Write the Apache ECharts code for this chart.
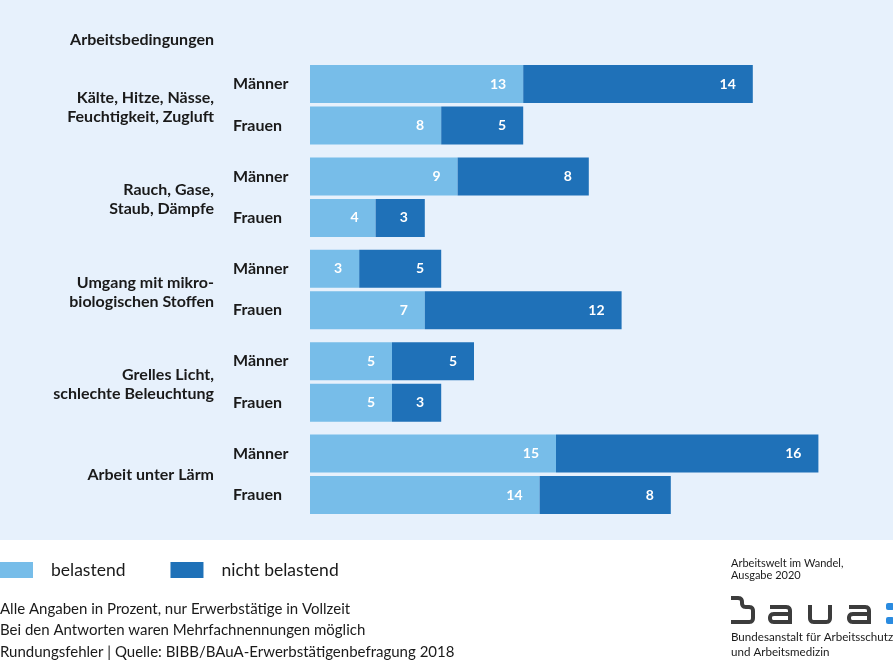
<!DOCTYPE html>
<html><head><meta charset="utf-8">
<script src="https://cdn.jsdelivr.net/npm/echarts@6/dist/echarts.min.js"></script>
<style>html,body{margin:0;padding:0;background:#fff}#c{width:893px;height:663px}</style>
</head><body><div id="c"></div>
<script>
const groups = ['Kälte, Hitze, Nässe,\nFeuchtigkeit, Zugluft', 'Rauch, Gase,\nStaub, Dämpfe', 'Umgang mit mikro-\nbiologischen Stoffen', 'Grelles Licht,\nschlechte Beleuchtung', 'Arbeit unter Lärm'];
const rows = ['Männer', 'Frauen'];
// [Männer, Frauen] per group
const belastend = [[13, 8], [9, 4], [3, 7], [5, 5], [15, 14]];
const nichtBelastend = [[14, 5], [8, 3], [5, 12], [5, 3], [16, 8]];
const seriesNames = ['belastend', 'nicht belastend'];
const notes = ['Alle Angaben in Prozent, nur Erwerbstätige in Vollzeit', 'Bei den Antworten waren Mehrfachnennungen möglich', 'Rundungsfehler | Quelle: BIBB/BAuA-Erwerbstätigenbefragung 2018'];

const FONT = 'Lato';
const TXT = '#1a1a1a';
const colors = ['#77bde9', '#1f71b8'];
const grid = [], xAxis = [], yAxis = [], series = [], graphic = [];
graphic.push({type:'rect', z:-10, shape:{x:0,y:0,width:893,height:540}, style:{fill:'#e7f1fc'}});
graphic.push({type:'text', x:214, y:40, style:{text:'Arbeitsbedingungen', textAlign:'right', textVerticalAlign:'middle', font:'bold 16px '+FONT, fill:TXT}});
groups.forEach((g, i) => {
  const top = 63.25 + i * 92.4;
  grid.push({left:310, width:574, top:top, height:83});
  xAxis.push({gridIndex:i, type:'value', min:0, max:35, show:false});
  yAxis.push({gridIndex:i, type:'category', data:rows, inverse:true,
    axisLine:{show:false}, axisTick:{show:false},
    axisLabel:{align:'left', margin:77, fontFamily:FONT, fontWeight:'bold', fontSize:16, color:TXT}});
  const multi = g.indexOf('\n') >= 0;
  graphic.push({type:'text', x:214, y:top + 41.5 + (multi ? 2.5 : 0), style:{text:g, textAlign:'right', textVerticalAlign:'middle', font:'bold 16px '+FONT, lineHeight:19, fill:TXT}});
  [belastend[i], nichtBelastend[i]].forEach((d, k) => {
    series.push({type:'bar', name:seriesNames[k], xAxisIndex:i, yAxisIndex:i, stack:'s'+i, data:d,
      barWidth:38, itemStyle:{color:colors[k]},
      label:{show:true, position:'insideRight', distance:17, color:'#fff', fontFamily:FONT, fontWeight:'bold', fontSize:14}});
  });
});
notes.forEach((n, i) => {
  graphic.push({type:'text', x:0, y:609 + i * 21.5, style:{text:n, textVerticalAlign:'middle', font:'15px '+FONT, fill:TXT}});
});
graphic.push({type:'text', x:731, y:569, style:{text:'Arbeitswelt im Wandel,\nAusgabe 2020', textVerticalAlign:'middle', font:'11px '+FONT, lineHeight:12, fill:TXT}});
graphic.push({type:'text', x:731, y:644.5, style:{text:'Bundesanstalt für Arbeitsschutz\nund Arbeitsmedizin', textVerticalAlign:'middle', font:'11.6px '+FONT, lineHeight:15, fill:TXT}});

// baua logo drawn as rounded polylines
function rounded(pts, r) {
  const out = [pts[0]];
  for (let i = 1; i < pts.length - 1; i++) {
    const p = pts[i], a = pts[i-1], b = pts[i+1];
    const d1 = Math.hypot(p[0]-a[0], p[1]-a[1]), d2 = Math.hypot(b[0]-p[0], b[1]-p[1]);
    const rr = Math.min(r, d1/2, d2/2);
    const s = [p[0] - (p[0]-a[0])/d1*rr, p[1] - (p[1]-a[1])/d1*rr];
    const e = [p[0] + (b[0]-p[0])/d2*rr, p[1] + (b[1]-p[1])/d2*rr];
    for (let t = 0; t <= 1.0001; t += 0.2) {
      const u = 1 - t;
      out.push([u*u*s[0] + 2*u*t*p[0] + t*t*e[0], u*u*s[1] + 2*u*t*p[1] + t*t*e[1]]);
    }
  }
  out.push(pts[pts.length-1]);
  return out;
}
const logoStyle = {fill:null, stroke:'#3c3c3c', lineWidth:4, lineJoin:'round'};
const addLine = (pts, r) => graphic.push({type:'polyline', shape:{points:rounded(pts, r)}, style:logoStyle});
addLine([[731,598],[742,598],[742,607],[753,607],[753,622],[731,622]], 4);
[770, 849].forEach(x0 => {
  addLine([[x0,607],[x0+20,607],[x0+20,624]], 4);
  addLine([[x0+20,614],[x0,614],[x0,622],[x0+20,622]], 4);
});
addLine([[810,605],[810,622],[830,622],[830,605]], 4);
graphic.push({type:'rect', shape:{x:886,y:603,width:8,height:7,r:2}, style:{fill:'#2a8be0'}});
graphic.push({type:'rect', shape:{x:886,y:617,width:8,height:7,r:2}, style:{fill:'#2a8be0'}});

const chart = echarts.init(document.getElementById('c'), null, {renderer:'canvas'});
chart.setOption({
  animation:false,
  textStyle:{fontFamily:FONT},
  legend:{left:0, top:561, padding:0, itemWidth:33, itemHeight:16, itemGap:45, icon:'rect',
    data:seriesNames, textStyle:{fontFamily:FONT, fontSize:17.5, color:TXT, padding:[0,0,0,13]}},
  grid, xAxis, yAxis, series, graphic
});
</script></body></html>
